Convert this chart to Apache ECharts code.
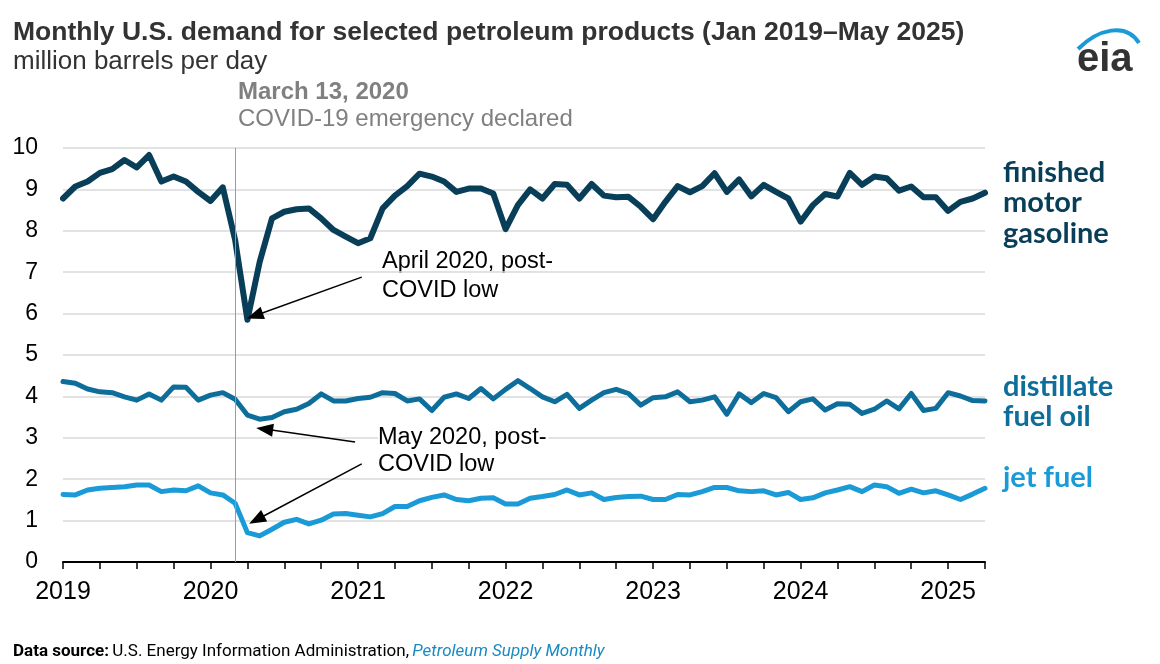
<!DOCTYPE html>
<html>
<head>
<meta charset="utf-8">
<script src="https://cdn.jsdelivr.net/npm/echarts@6/dist/echarts.min.js"></script>
<style>html,body{margin:0;padding:0;background:#fff;}#c{width:1160px;height:664px;}</style>
</head>
<body>
<div id="c"></div>
<script>
// Months Jan 2019 .. Apr 2025
const months = [];
for (let y = 2019; y <= 2025; y++) for (let m = 1; m <= 12; m++) { if (y === 2025 && m > 4) break; months.push(y + '-' + String(m).padStart(2, '0')); }

const gasoline = [
  8.78, 9.07, 9.19, 9.40, 9.49, 9.71, 9.53, 9.83, 9.19, 9.31, 9.19, 8.94,
  8.72, 9.05, 7.78, 5.85, 7.25, 8.30, 8.46, 8.52, 8.54, 8.30, 8.02, 7.86,
  7.70, 7.82, 8.54, 8.85, 9.08, 9.38, 9.31, 9.19, 8.94, 9.02, 9.02, 8.90,
  8.04, 8.62, 9.00, 8.78, 9.13, 9.11, 8.78, 9.13, 8.85, 8.81, 8.82, 8.58,
  8.28, 8.70, 9.08, 8.93, 9.08, 9.39, 8.94, 9.24, 8.83, 9.11, 8.94, 8.78,
  8.22, 8.62, 8.89, 8.83, 9.40, 9.11, 9.31, 9.27, 8.97, 9.07, 8.81, 8.81,
  8.48, 8.70, 8.78, 8.92
];
const distillate = [
  4.36, 4.32, 4.18, 4.11, 4.09, 3.99, 3.91, 4.06, 3.91, 4.23, 4.22, 3.91,
  4.03, 4.09, 3.93, 3.55, 3.45, 3.49, 3.63, 3.69, 3.83, 4.06, 3.89, 3.89,
  3.95, 3.98, 4.09, 4.07, 3.89, 3.94, 3.66, 3.98, 4.06, 3.95, 4.19, 3.94,
  4.17, 4.38, 4.19, 3.99, 3.87, 4.05, 3.71, 3.91, 4.09, 4.17, 4.07, 3.79,
  3.97, 3.99, 4.11, 3.87, 3.91, 3.99, 3.57, 4.06, 3.85, 4.07, 3.97, 3.63,
  3.87, 3.94, 3.67, 3.82, 3.81, 3.59, 3.69, 3.89, 3.70, 4.07, 3.66, 3.71,
  4.09, 4.01, 3.90, 3.89
];
const jetFuel = [
  1.63, 1.62, 1.74, 1.78, 1.80, 1.82, 1.86, 1.86, 1.70, 1.74, 1.72, 1.84,
  1.67, 1.62, 1.42, 0.71, 0.63, 0.79, 0.96, 1.03, 0.92, 1.01, 1.16, 1.17,
  1.13, 1.09, 1.17, 1.34, 1.34, 1.48, 1.56, 1.62, 1.51, 1.48, 1.54, 1.55,
  1.40, 1.40, 1.54, 1.58, 1.63, 1.74, 1.62, 1.67, 1.51, 1.56, 1.58, 1.59,
  1.51, 1.51, 1.63, 1.62, 1.70, 1.80, 1.80, 1.72, 1.70, 1.72, 1.62, 1.68,
  1.51, 1.55, 1.67, 1.74, 1.82, 1.70, 1.86, 1.82, 1.66, 1.76, 1.67, 1.72,
  1.62, 1.51, 1.64, 1.78
];
const yTicks = [0,1,2,3,4,5,6,7,8,9,10];

const C_GAS = '#083e58', C_DIST = '#0e6e9b', C_JET = '#1a9ad6';
const toPairs = arr => arr.map((v, i) => [i, v]);

const chart = echarts.init(document.getElementById('c'));
const arrowStyle = { color: '#000', width: 1.5, type: 'solid' };
const F = 'Liberation Sans, Arial';
chart.setOption({
  animation: false,
  backgroundColor: '#fff',
  grid: { left: 63, right: 175, top: 148, bottom: 102 },
  xAxis: {
    type: 'value', min: 0, max: months.length - 1, interval: 3,
    axisLine: { show: true, lineStyle: { color: '#000', width: 2 } },
    axisTick: { show: true, length: 7, lineStyle: { color: '#000', width: 1.5 } },
    splitLine: { show: false },
    axisLabel: {
      margin: 18, fontSize: 25, color: '#000', fontFamily: F,
      formatter: v => (v % 12 === 0 && months[v]) ? months[v].slice(0, 4) : ''
    }
  },
  yAxis: {
    type: 'value', min: 0, max: 10, interval: 1,
    axisLine: { show: false }, axisTick: { show: false },
    splitLine: { lineStyle: { color: '#d9d9d9', width: 1.5 } },
    axisLabel: { margin: 25, fontSize: 23, color: '#000', fontFamily: F,
      formatter: v => yTicks.includes(v) ? String(v) : '' }
  },
  series: [
    {
      name: 'distillate fuel oil', type: 'line', data: toPairs(distillate), showSymbol: false,
      lineStyle: { color: C_DIST, width: 5, join: 'round', cap: 'round' }, z: 3
    },
    {
      name: 'jet fuel', type: 'line', data: toPairs(jetFuel), showSymbol: false,
      lineStyle: { color: C_JET, width: 5, join: 'round', cap: 'round' }, z: 3
    },
    {
      name: 'finished motor gasoline', type: 'line', data: toPairs(gasoline), showSymbol: false,
      lineStyle: { color: C_GAS, width: 6, join: 'round', cap: 'round' }, z: 4,
      markLine: {
        silent: true, animation: false,
        label: { show: false },
        symbol: ['none', 'triangle'], symbolSize: [13, 17],
        data: [
          [{ xAxis: 14, yAxis: 0, symbol: 'none', lineStyle: { color: '#9a9a9a', width: 1, type: 'solid' } },
           { xAxis: 14, yAxis: 10, symbol: 'none' }],
          [{ coord: [24.3, 6.88], lineStyle: arrowStyle }, { coord: [15.6, 5.95] }],
          [{ coord: [23.76, 2.90], lineStyle: arrowStyle }, { coord: [16.4, 3.21] }],
          [{ coord: [24.3, 2.37], lineStyle: arrowStyle }, { coord: [15.75, 1.02] }]
        ]
      }
    }
  ],
  graphic: [
    { type: 'text', left: 13, top: 19, style: { text: 'Monthly U.S. demand for selected petroleum products (Jan 2019\u2013May 2025)', fontSize: 26.5, fontWeight: 'bold', fill: '#333', fontFamily: F } },
    { type: 'text', left: 13, top: 49, style: { text: 'million barrels per day', fontSize: 26, fill: '#333', fontFamily: F } },
    { type: 'text', left: 238, top: 80, style: { text: 'March 13, 2020', fontSize: 24, fontWeight: 'bold', fill: '#808080', fontFamily: F } },
    { type: 'text', left: 238, top: 107, style: { text: 'COVID-19 emergency declared', fontSize: 24, fill: '#808080', fontFamily: F } },
    { type: 'text', left: 382, top: 247, style: { text: 'April 2020, post-\nCOVID low', fontSize: 23.5, lineHeight: 29, fill: '#000', fontFamily: F } },
    { type: 'text', left: 378, top: 424, z: 10, style: { text: 'May 2020, post-\nCOVID low', fontSize: 23.5, lineHeight: 27, fill: '#000', fontFamily: F, backgroundColor: '#fff', padding: [0, 2, 0, 0] } },
    { type: 'text', left: 1003, top: 157, style: { text: 'finished\nmotor\ngasoline', fontSize: 29, lineHeight: 30.5, fontWeight: 'bold', fill: C_GAS, fontFamily: 'Lato' } },
    { type: 'text', left: 1003, top: 372, style: { text: 'distillate\nfuel oil', fontSize: 29, lineHeight: 29.5, fontWeight: 'bold', fill: C_DIST, fontFamily: 'Lato' } },
    { type: 'text', left: 1003, top: 462, style: { text: 'jet fuel', fontSize: 29, lineHeight: 31, fontWeight: 'bold', fill: C_JET, fontFamily: 'Lato' } },
    { type: 'bezierCurve', shape: { x1: 1078, y1: 49, cpx1: 1098, cpy1: 29, cpx2: 1126, cpy2: 22, x2: 1139, y2: 43 }, style: { stroke: '#1a9ad6', lineWidth: 4, fill: null } },
    { type: 'text', left: 1077, top: 40, style: { text: 'eia', fontSize: 40, fontWeight: 'bold', fill: '#333', fontFamily: F } },
    { type: 'text', left: 13, top: 643, style: {
        text: '{b|Data source:} {n|U.S. Energy Information Administration,} {i|Petroleum Supply Monthly}',
        rich: {
          b: { fontSize: 17, fontWeight: 'bold', fill: '#000', fontFamily: 'Roboto' },
          n: { fontSize: 17, fill: '#000', fontFamily: 'Roboto' },
          i: { fontSize: 17, fontStyle: 'italic', fill: '#1a8ac2', fontFamily: 'Roboto' }
        } } }
  ]
});
</script>
</body>
</html>
